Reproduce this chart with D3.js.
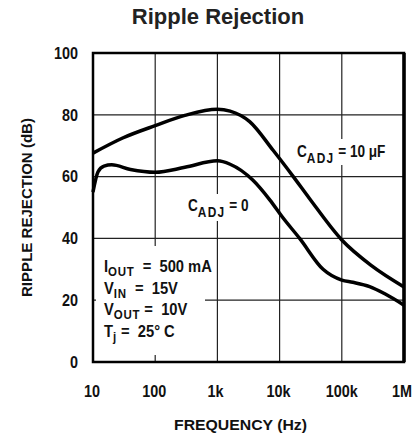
<!DOCTYPE html>
<html>
<head>
<meta charset="utf-8">
<script src="https://cdn.jsdelivr.net/npm/d3@7"></script>
<style>
  body { margin: 0; background: #fff; }
  svg text { font-family: "Liberation Sans", Arial, sans-serif; font-weight: bold; fill: #111; white-space: pre; }
</style>
</head>
<body>
<svg id="chart"></svg>
<script>
// frequency ticks (Hz) and labels
const freqTicks = [10, 100, 1e3, 1e4, 1e5, 1e6];
const freqLabels = ["10", "100", "1k", "10k", "100k", "1M"];
const dbTicks = [0, 20, 40, 60, 80, 100];

// C_ADJ = 10 uF curve [Hz, dB]
const cadj10 = [
  [10, 67.6], [30, 72.5], [100, 76.5], [300, 79.8], [1000, 81.8], [1600, 81.2],
  [3300, 77.8], [7800, 68.6], [16600, 60], [30000, 53], [100000, 39.5],
  [300000, 31.2], [1000000, 24.3]
];
// C_ADJ = 0 curve [Hz, dB]
const cadj0 = [
  [10, 55], [12, 61.5], [15, 63.4], [20, 63.8], [40, 62.3], [100, 61.4],
  [300, 63], [1000, 65.1], [1600, 64], [3700, 58.9], [7000, 52.4], [11000, 47],
  [21000, 40], [50000, 30], [100000, 26.5], [150000, 25.8], [280000, 24.4],
  [500000, 22], [1000000, 18.4]
];

const W = 418, H = 440;
const margin = {top: 53, right: 14, bottom: 78, left: 93};
const width = W - margin.left - margin.right;
const height = H - margin.top - margin.bottom;

const svg = d3.select("#chart").attr("width", W).attr("height", H);

const x = d3.scaleLog().domain([10, 1e6]).range([0, width]);
const y = d3.scaleLinear().domain([0, 100]).range([height, 0]);

// condensed text helper: text drawn at (px, py) squeezed horizontally
function ctext(parent, px, py, sx) {
  return parent.append("text")
    .attr("transform", `translate(${px},${py}) scale(${sx},1)`);
}

// Title
svg.append("text")
  .attr("x", 218).attr("y", 24)
  .attr("text-anchor", "middle")
  .style("font-size", "22px")
  .style("fill", "#222")
  .text("Ripple Rejection");

const g = svg.append("g").attr("transform", `translate(${margin.left},${margin.top})`);

// grid
g.selectAll(".vgrid").data(freqTicks.slice(1, -1)).join("line")
  .attr("x1", d => x(d)).attr("x2", d => x(d))
  .attr("y1", 0).attr("y2", height)
  .attr("stroke", "#222").attr("stroke-width", 1.2);
g.selectAll(".hgrid").data(dbTicks.slice(1, -1)).join("line")
  .attr("x1", 0).attr("x2", width)
  .attr("y1", d => y(d)).attr("y2", d => y(d))
  .attr("stroke", "#222").attr("stroke-width", 1.2);

// white boxes behind the text blocks
const boxes = [[3, 193, 109, 109], [202, 86, 58, 26], [94, 141, 70, 27]];
g.selectAll(".box").data(boxes).join("rect")
  .attr("x", d => d[0]).attr("y", d => d[1])
  .attr("width", d => d[2]).attr("height", d => d[3])
  .attr("fill", "#fff");

// curves
const line = d3.line()
  .x(d => x(d[0])).y(d => y(d[1]))
  .curve(d3.curveMonotoneX);

[cadj10, cadj0].forEach(s => {
  g.append("path").datum(s)
    .attr("d", line)
    .attr("fill", "none")
    .attr("stroke", "#000")
    .attr("stroke-width", 3.5)
    .attr("stroke-linejoin", "round");
});

// frame
g.append("rect")
  .attr("x", 0).attr("y", 0).attr("width", width).attr("height", height)
  .attr("fill", "none").attr("stroke", "#000").attr("stroke-width", 2.5);
g.append("line")
  .attr("x1", width).attr("x2", width).attr("y1", 0).attr("y2", height)
  .attr("stroke", "#000").attr("stroke-width", 3.5);

// tick labels
dbTicks.forEach(d => {
  ctext(g, -15, y(d), 0.9)
    .attr("dy", "0.36em")
    .attr("text-anchor", "end")
    .style("font-size", "16px")
    .text(d);
});
const xLabelPos = [-1, x(100) - 1, x(1e3) - 2, x(1e4) - 1, x(1e5), x(1e6) - 2];
freqTicks.forEach((d, i) => {
  ctext(g, xLabelPos[i], height + 35, 0.9)
    .attr("text-anchor", "middle")
    .style("font-size", "16px")
    .text(freqLabels[i]);
});

// axis titles
svg.append("text")
  .attr("x", 174).attr("y", 430)
  .attr("textLength", 133).attr("lengthAdjust", "spacingAndGlyphs")
  .style("font-size", "15.5px")
  .text("FREQUENCY (Hz)");

svg.append("text")
  .attr("transform", `translate(32,297) rotate(-90)`)
  .attr("textLength", 179).attr("lengthAdjust", "spacingAndGlyphs")
  .style("font-size", "14.5px")
  .text("RIPPLE REJECTION (dB)");

// curve annotations
function cadjLabel(px, py, rest) {
  const t = ctext(svg, px, py, 0.85).style("font-size", "16px");
  t.append("tspan").text("C");
  t.append("tspan").attr("dy", 6).style("font-size", "14px").style("letter-spacing", "1.5px").text("ADJ");
  t.append("tspan").attr("dy", -6).text(" = " + rest);
}
cadjLabel(297, 157, "10 \u03bcF");
cadjLabel(188, 211, "0");

// conditions
const cond = [["I", "OUT", "  =  500 mA"], ["V", "IN", "  =  15V"], ["V", "OUT", " =  10V"], ["T", "j", " =  25\u00b0 C"]];
cond.forEach((c, i) => {
  const t = ctext(svg, 104, 272 + i * 21.5, 0.92).style("font-size", "16px");
  t.append("tspan").text(c[0]);
  t.append("tspan").attr("dy", 4).style("font-size", "12.5px").style("letter-spacing", "0.8px").text(c[1]);
  t.append("tspan").attr("dy", -4).text(c[2]);
});
</script>
</body>
</html>
